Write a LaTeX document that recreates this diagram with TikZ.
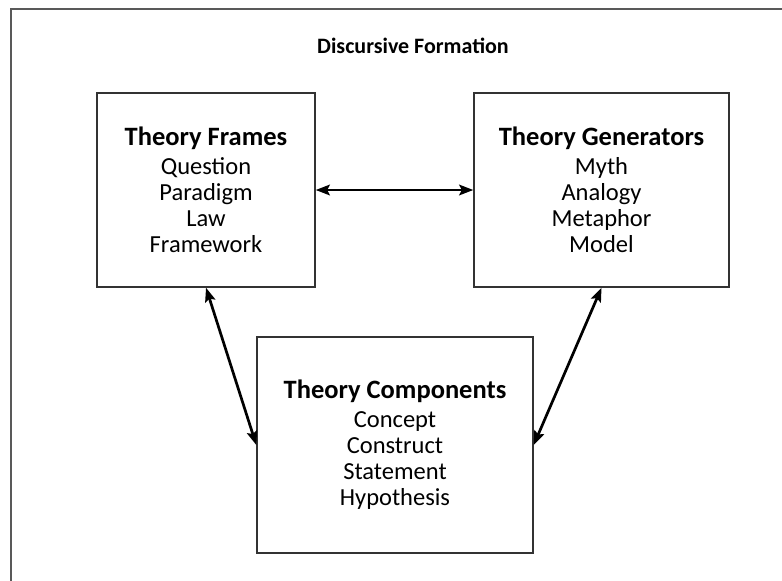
\documentclass[tikz,border=0pt]{standalone}
\usepackage{fontspec}
\setmainfont{Carlito}
\usepackage{tikz}
\usetikzlibrary{arrows.meta}

\begin{document}
\begin{tikzpicture}[<->,>={Stealth[length=14pt,width=10.5pt,inset=2.5pt]},
                    x=1pt,y=-1pt,node distance=395.5pt,line width=2.7pt]
   \tikzstyle{every node}=[font=\fontsize{24.5}{26}\selectfont,align=center]
   \tikzstyle{theory}=[draw=black!80,line width=1.4pt,fill=white,
                       minimum height=194pt,inner sep=0pt]
   \useasboundingbox (0,0) rectangle (782,581);
   \draw[-,line width=1.2pt,black!65] (782,9) -| (11,581);

   \node (title) at (413,46) {\fontsize{22}{26}\selectfont\bfseries Discursive Formation};

   \node[theory,minimum width=218pt] (F) at (206,190)
        {{\fontsize{26.5}{30}\selectfont\bfseries Theory Frames}\\[3pt]
         Question\\ Paradigm\\ Law\\ Framework};
   \node[theory,minimum width=255pt] (G) [right of=F]
        {{\fontsize{26.5}{30}\selectfont\bfseries Theory Generators}\\[3pt]
         Myth\\ Analogy\\ Metaphor\\ Model};
   \node[theory,minimum width=276pt,minimum height=216pt] (C) at (395,445)
        {{\fontsize{26.5}{30}\selectfont\bfseries Theory Components}\\[3pt]
         Concept\\ Construct\\ Statement\\ Hypothesis};

   \path (F) edge (G)
         (F.south) edge (C.west)
         (G.south) edge (C.east);
\end{tikzpicture}
\end{document}
